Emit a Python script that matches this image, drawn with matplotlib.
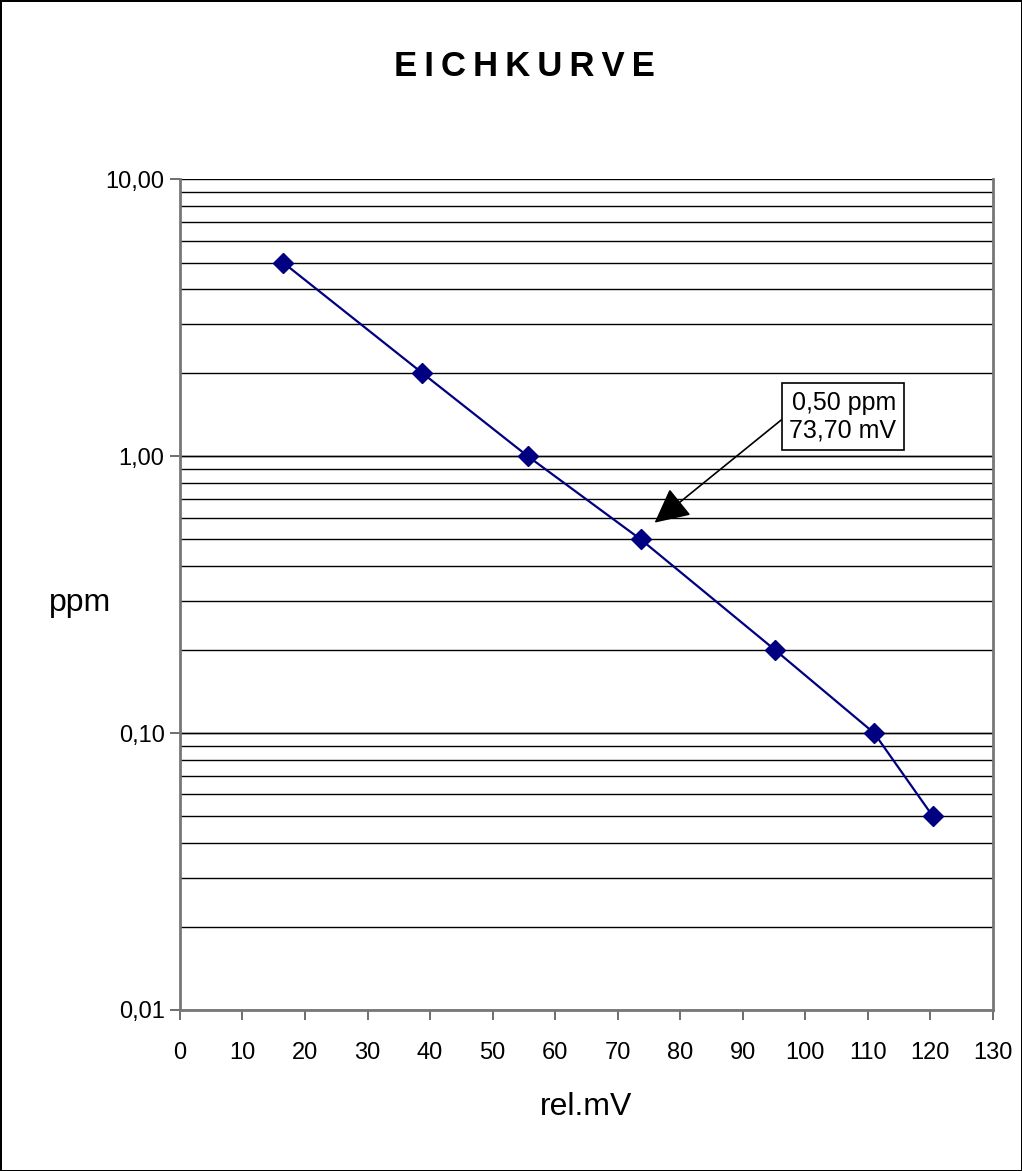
import matplotlib.pyplot as plt
import matplotlib.ticker as mticker

# calibration curve data
mv = [16.5, 38.7, 55.6, 73.7, 95.1, 111.0, 120.4]
ppm = [5.0, 2.0, 1.0, 0.5, 0.2, 0.1, 0.05]

xticks = list(range(0, 131, 10))
yticks = [0.01, 0.1, 1, 10]
ylabels = ['0,01', '0,10', '1,00', '10,00']

plt.rcParams['font.family'] = ['Liberation Sans', 'DejaVu Sans']

fig = plt.figure(figsize=(10.22, 11.71), dpi=100, facecolor='white',
                 edgecolor='black', linewidth=2)
ax = fig.add_axes([0.176, 0.1375, 0.7956, 0.7095])

ax.set_yscale('log')
ax.set_xlim(0, 130)
ax.set_ylim(0.01, 10)

# horizontal grid at every decade step
for dec in [0.01, 0.1, 1]:
    for k in range(1, 11):
        ax.axhline(dec * k, color='black', lw=1, zorder=1)

ax.plot(mv, ppm, color='#000080', lw=1.6, marker='D', ms=10, zorder=3)

ax.set_xticks(xticks)
ax.set_xticklabels([str(t) for t in xticks], fontsize=17)
ax.yaxis.set_major_locator(mticker.FixedLocator(yticks))
ax.yaxis.set_minor_locator(mticker.NullLocator())
ax.set_yticklabels(ylabels, fontsize=17)
ax.tick_params(direction='out', length=7, color='#555555', width=1.2, pad=4)
ax.tick_params(axis='x', pad=16)

for s in ['left', 'bottom', 'right']:
    ax.spines[s].set_color('#777777')
    ax.spines[s].set_linewidth(2)
ax.spines['top'].set_visible(False)

ax.set_xlabel('rel.mV', fontsize=23, labelpad=20)
ax.set_ylabel('ppm', fontsize=23, rotation=0, va='center', ha='center')
ax.yaxis.set_label_coords(-0.123, 0.49)

ax.annotate('0,50 ppm\n73,70 mV', xy=(75.9, 0.575), xytext=(106, 1.39),
            fontsize=18, ha='center', va='center', multialignment='right',
            bbox=dict(boxstyle='square,pad=0.3', fc='white', ec='black', lw=1.2),
            arrowprops=dict(arrowstyle='-|>,head_length=1.2,head_width=0.6',
                            color='black', lw=1.2, shrinkA=0, shrinkB=0,
                            relpos=(0, 0.56)),
            zorder=4)

fig.text(0.513, 0.943, '\u2009'.join('EICHKURVE'), fontsize=25, fontweight='bold',
         ha='center', va='center')

fig.savefig('out.png', dpi=100)
